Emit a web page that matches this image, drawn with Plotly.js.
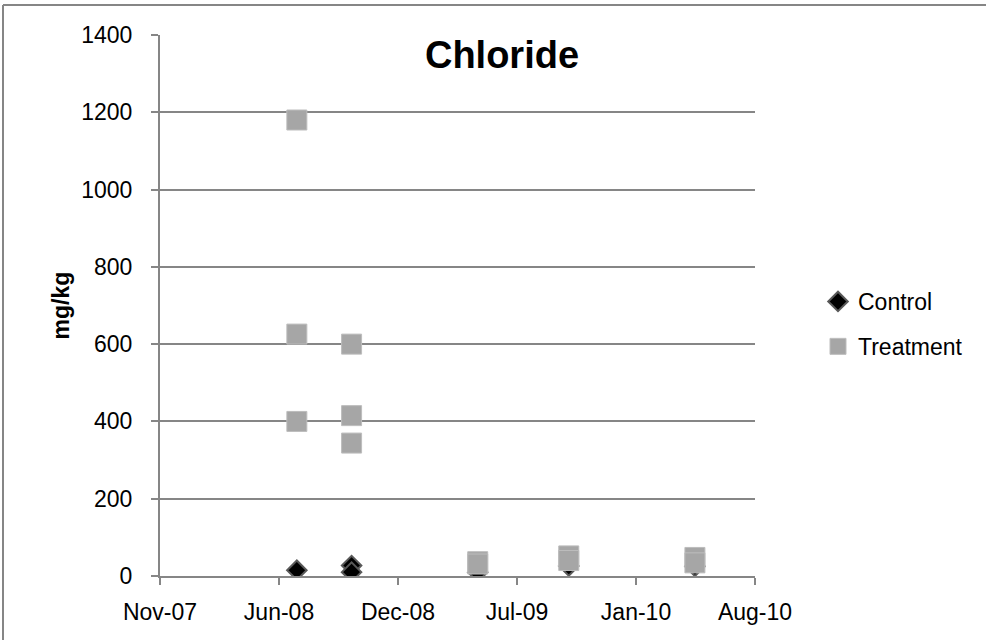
<!DOCTYPE html>
<html>
<head>
<meta charset="utf-8">
<script src="https://cdn.plot.ly/plotly-3.0.1.min.js"></script>
<style>html,body{margin:0;padding:0;background:#fff;}#chart{width:986px;height:640px;}</style>
</head>
<body>
<div id="chart"></div>
<script>
// Data (dates, values in mg/kg)
var controlDates = ['2008-07-01', '2008-10-01', '2008-10-01', '2009-05-01', '2009-10-01', '2010-05-01'];
var controlValues = [15, 27, 10, 10, 26, 25];
var treatmentDates = ['2008-07-01', '2008-07-01', '2008-07-01', '2008-10-01', '2008-10-01', '2008-10-01',
                      '2009-05-01', '2009-05-01', '2009-10-01', '2009-10-01', '2010-05-01', '2010-05-01'];
var treatmentValues = [1180, 626, 400, 600, 415, 344, 37, 31, 52, 40, 48, 34];
var tickDates = ['2007-11-14', '2008-06-01', '2008-12-18', '2009-07-06', '2010-01-22', '2010-08-10'];
var tickLabels = ['Nov-07', 'Jun-08', 'Dec-08', 'Jul-09', 'Jan-10', 'Aug-10'];
var yTicks = [0, 200, 400, 600, 800, 1000, 1200, 1400];

var W = 986, H = 640;
var mL = 160, mR = W - 755, mT = 35, mB = H - 576;
var pw = W - mL - mR, ph = H - mT - mB;
function px2x(p) { return (p - mL) / pw; }
function px2y(p) { return (H - mB - p) / ph; }

var font = 'Liberation Sans, Arial, sans-serif';
var grey = '#868686';

var traces = [
  {
    x: controlDates, y: controlValues, type: 'scatter', mode: 'markers', name: 'Control',
    legendgroup: 'c',
    marker: {symbol: 'diamond', size: 15, color: '#000000', line: {color: '#595959', width: 2}}
  },
  {
    x: treatmentDates, y: treatmentValues, type: 'scatter', mode: 'markers', name: 'Treatment',
    legendgroup: 't',
    marker: {symbol: 'square', size: 20, color: '#a6a6a6', line: {color: '#bdbdbd', width: 1}}
  }
];

var layout = {
  width: W, height: H,
  margin: {l: mL, r: mR, t: mT, b: mB, pad: 0},
  paper_bgcolor: '#ffffff', plot_bgcolor: '#ffffff',
  font: {family: font, size: 23, color: '#000000'},
  showlegend: true,
  title: {
    text: '<b>Chloride</b>', font: {family: font, size: 38, color: '#000000'},
    x: px2x(502), xref: 'paper', xanchor: 'center',
    y: 1 - 55 / H, yref: 'container', yanchor: 'middle'
  },
  xaxis: {
    type: 'date', range: ['2007-11-14', '2010-08-10'],
    tickmode: 'array', tickvals: tickDates, ticktext: tickLabels,
    showgrid: false, zeroline: false,
    showline: true, linecolor: grey, linewidth: 2,
    ticks: 'outside', ticklen: 7, tickwidth: 2, tickcolor: grey,
    ticklabelstandoff: 7,
    tickfont: {family: font, size: 23, color: '#000000'},
    fixedrange: true
  },
  yaxis: {
    range: [0, 1400], tickmode: 'array', tickvals: yTicks,
    showgrid: true, gridcolor: grey, gridwidth: 2,
    zeroline: false, showline: true, linecolor: grey, linewidth: 2,
    ticks: 'outside', ticklen: 7, tickwidth: 2, tickcolor: grey,
    ticklabelstandoff: 14,
    tickfont: {family: font, size: 23, color: '#000000'},
    title: {text: '<b>mg/kg</b>', font: {family: font, size: 23, color: '#000000'}, standoff: 5},
    fixedrange: true
  },
  legend: {
    x: px2x(818), xanchor: 'left', y: px2y(280), yanchor: 'top',
    traceorder: 'grouped', tracegroupgap: 12,
    font: {family: font, size: 23, color: '#000000'},
    bgcolor: 'rgba(0,0,0,0)', itemsizing: 'trace'
  },
  shapes: [
    {type: 'line', xref: 'paper', yref: 'paper', x0: px2x(3), x1: px2x(986), y0: px2y(5), y1: px2y(5),
     line: {color: grey, width: 2}},
    {type: 'line', xref: 'paper', yref: 'paper', x0: px2x(3), x1: px2x(3), y0: px2y(5), y1: px2y(640),
     line: {color: grey, width: 2}}
  ]
};

Plotly.newPlot('chart', traces, layout, {displayModeBar: false, staticPlot: true});
</script>
</body>
</html>
